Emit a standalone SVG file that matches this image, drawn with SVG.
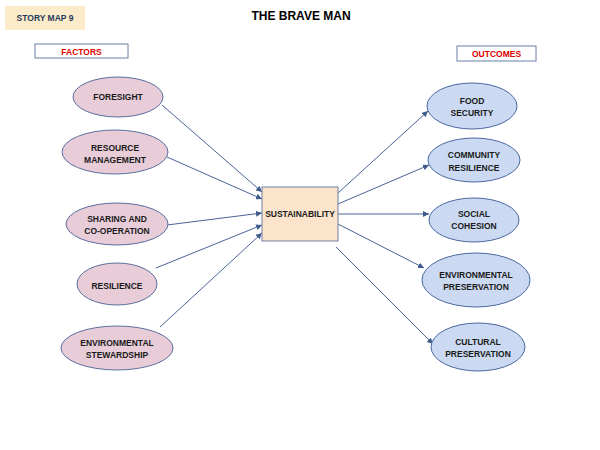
<svg xmlns="http://www.w3.org/2000/svg" width="600" height="450" viewBox="0 0 600 450">
<defs>
<marker id="ah" viewBox="0 0 10 10" refX="10" refY="5" markerWidth="6" markerHeight="6" orient="auto" markerUnits="userSpaceOnUse">
<path d="M0,0 L10,5 L0,10 z" fill="#3f5a8c"/>
</marker>
<style>
.t{font-family:"Liberation Sans",Arial,sans-serif;font-weight:bold;text-anchor:middle;}
.lbl{font-size:8.5px;fill:#1a1a1a;}
.f{fill:#e8cdd8;stroke:#5a6e9e;stroke-width:1;}
.o{fill:#cbdaf2;stroke:#4a68a0;stroke-width:1;}
.c{stroke:#4a6496;stroke-width:1;fill:none;marker-end:url(#ah);}
.hdr{fill:#ffffff;stroke:#6b7fa8;stroke-width:1;}
</style>
</defs>
<rect width="600" height="450" fill="#ffffff"/>
<g id="storymap">
<rect x="5" y="6" width="80" height="24" fill="#fcebc8"/>
<text class="t" x="45" y="21" font-size="8.5" fill="#1f3a5f">STORY MAP 9</text>
</g>
<g id="title"><text class="t" x="301" y="20" font-size="12" fill="#000">THE BRAVE MAN</text></g>
<g id="factors-hdr">
<rect class="hdr" x="35" y="44" width="93" height="14"/>
<text class="t" x="81.5" y="54.5" font-size="8.5" fill="#e00000">FACTORS</text>
</g>
<g id="outcomes-hdr">
<rect class="hdr" x="457" y="46" width="79" height="15"/>
<text class="t" x="496.5" y="57" font-size="8.5" fill="#e00000">OUTCOMES</text>
</g>
<g id="connectors">
<line class="c" x1="162" y1="105" x2="262" y2="192"/>
<line class="c" x1="167" y1="157" x2="262" y2="199"/>
<line class="c" x1="167" y1="225" x2="262" y2="213"/>
<line class="c" x1="156" y1="268" x2="262" y2="225"/>
<line class="c" x1="160" y1="327" x2="262" y2="233"/>
<line class="c" x1="338" y1="193" x2="428" y2="111"/>
<line class="c" x1="338" y1="204" x2="429" y2="165"/>
<line class="c" x1="338" y1="214" x2="429" y2="214"/>
<line class="c" x1="338" y1="224" x2="424" y2="268"/>
<line class="c" x1="336" y1="247" x2="433" y2="344"/>
</g>
<g id="foresight">
<ellipse class="f" cx="118" cy="97" rx="45" ry="20"/>
<text class="t lbl" x="118" y="100">FORESIGHT</text>
</g>
<g id="resource">
<ellipse class="f" cx="115" cy="152" rx="53" ry="22"/>
<text class="t lbl" x="115" y="151">RESOURCE</text>
<text class="t lbl" x="115" y="163">MANAGEMENT</text>
</g>
<g id="sharing">
<ellipse class="f" cx="117" cy="224" rx="51" ry="21"/>
<text class="t lbl" x="117" y="222">SHARING AND</text>
<text class="t lbl" x="117" y="234">CO-OPERATION</text>
</g>
<g id="resilience">
<ellipse class="f" cx="117" cy="284" rx="40" ry="21"/>
<text class="t lbl" x="117" y="289">RESILIENCE</text>
</g>
<g id="stewardship">
<ellipse class="f" cx="117" cy="348" rx="56" ry="22"/>
<text class="t lbl" x="117" y="346">ENVIRONMENTAL</text>
<text class="t lbl" x="117" y="358">STEWARDSHIP</text>
</g>
<g id="sustainability">
<rect x="262" y="187" width="76" height="54" fill="#fce4cc" stroke="#6d7fa5" stroke-width="1"/>
<text class="t lbl" x="300" y="217">SUSTAINABILITY</text>
</g>
<g id="food">
<ellipse class="o" cx="472" cy="106" rx="45" ry="23"/>
<text class="t lbl" x="472" y="104">FOOD</text>
<text class="t lbl" x="472" y="116">SECURITY</text>
</g>
<g id="community">
<ellipse class="o" cx="474" cy="160" rx="46" ry="22"/>
<text class="t lbl" x="474" y="158">COMMUNITY</text>
<text class="t lbl" x="474" y="171">RESILIENCE</text>
</g>
<g id="social">
<ellipse class="o" cx="474" cy="220" rx="45" ry="22"/>
<text class="t lbl" x="474" y="217">SOCIAL</text>
<text class="t lbl" x="474" y="229">COHESION</text>
</g>
<g id="envpres">
<ellipse class="o" cx="476" cy="280" rx="54" ry="27"/>
<text class="t lbl" x="476" y="278">ENVIRONMENTAL</text>
<text class="t lbl" x="476" y="290">PRESERVATION</text>
</g>
<g id="cultural">
<ellipse class="o" cx="478" cy="347" rx="47" ry="24"/>
<text class="t lbl" x="478" y="345">CULTURAL</text>
<text class="t lbl" x="478" y="357">PRESERVATION</text>
</g>
</svg>
